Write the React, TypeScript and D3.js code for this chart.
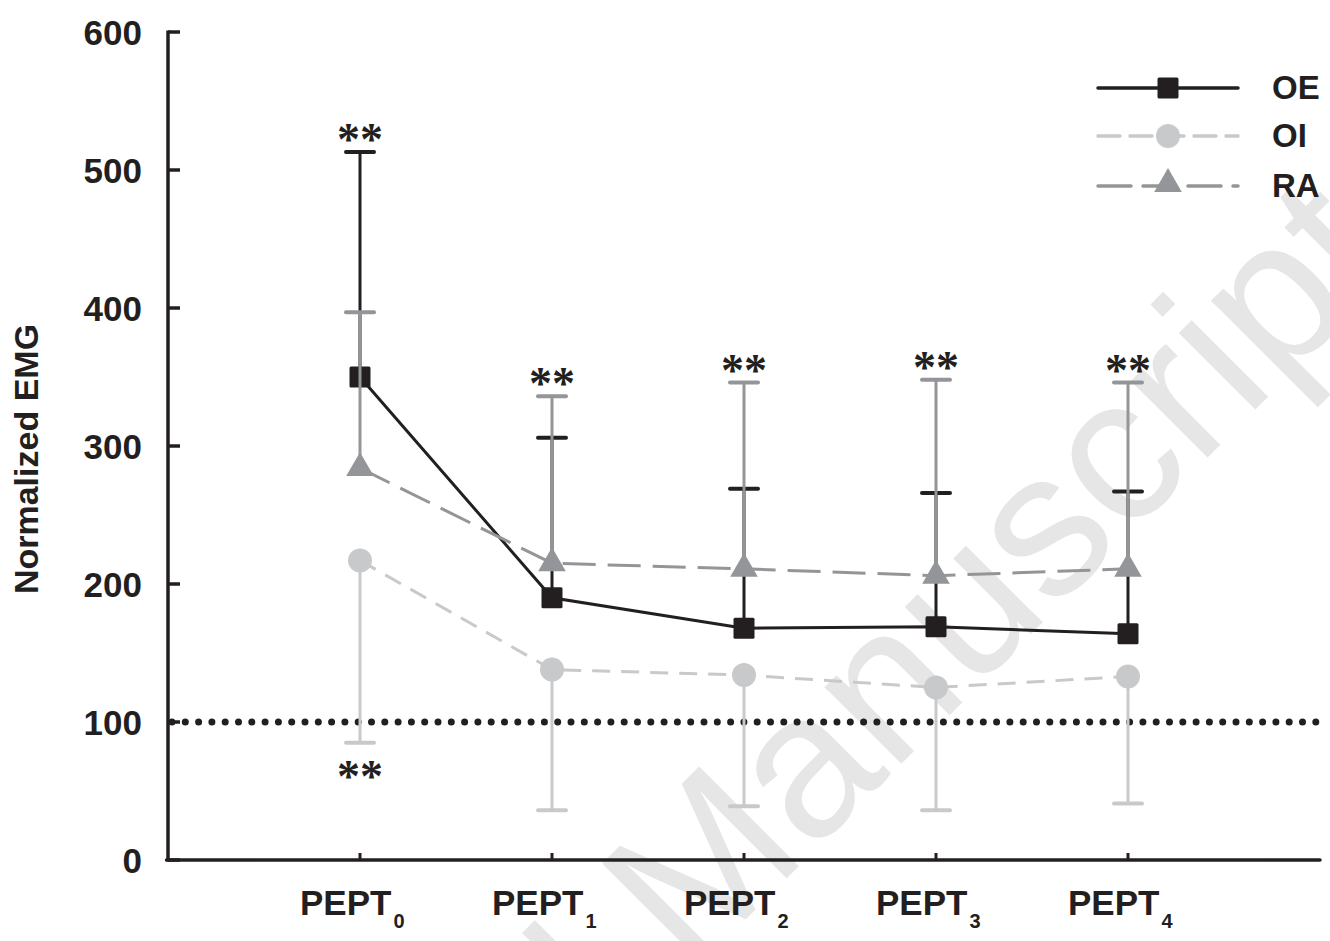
import React from "react";
import * as d3 from "d3";

const categories = ["0", "1", "2", "3", "4"];
const oeMean = [350, 190, 168, 169, 164];
const oeUpper = [513, 306, 269, 266, 267];
const oiMean = [217, 138, 134, 125, 133];
const oiLower = [85, 36, 39, 36, 41];
const raMean = [284, 215, 211, 206, 211];
const raUpper = [397, 336, 346, 348, 346];
const yTicks = [0, 100, 200, 300, 400, 500, 600];
const refLine = 100;
const topStars = [513, 336, 346, 348, 346];
const bottomStar = { idx: 0, value: 85 };

const W = 1330;
const H = 941;
const x = d3.scaleLinear().domain([-1, 5]).range([168, 1320]);
const y = d3.scaleLinear().domain([0, 600]).range([860, 32]);

const C_OE = "#231f20";
const C_OI = "#c8c9cb";
const C_RA = "#939598";
const FONT = "'Liberation Sans', Arial, Helvetica, sans-serif";
const STAR_FONT = "'Liberation Serif', 'Times New Roman', serif";

const lineGen = d3
  .line<number>()
  .x((_, i) => x(i))
  .y((d) => y(d));

function Square({ cx, cy }: { cx: number; cy: number }) {
  return <rect x={cx - 10.5} y={cy - 10.5} width={21} height={21} rx={1.5} fill={C_OE} />;
}
function Circle({ cx, cy }: { cx: number; cy: number }) {
  return <circle cx={cx} cy={cy} r={12} fill={C_OI} />;
}
function Tri({ cx, cy }: { cx: number; cy: number }) {
  const p = d3.symbol(d3.symbolTriangle, 330)();
  return <path d={p as string} transform={`translate(${cx},${cy})`} fill={C_RA} />;
}

export default function App() {
  return (
    <svg
      width={W}
      height={H}
      style={{ position: "absolute", left: 0, top: 0, background: "#fff" }}
    >
      {/* watermark */}
      <g transform={`translate(690,975) rotate(-45)`}>
        <text fontFamily={FONT} fontSize={205} fill="#e6e6e6">
          Manuscript
        </text>
        <text fontFamily={FONT} fontSize={205} fill="#e6e6e6" textAnchor="end" x={-57}>
          Accepted
        </text>
      </g>

      {/* reference dotted line */}
      <line
        x1={x(-1) + 4}
        x2={x(5)}
        y1={y(refLine)}
        y2={y(refLine)}
        stroke="#231f20"
        strokeWidth={7}
        strokeLinecap="round"
        strokeDasharray="0 13.3"
      />

      {/* OE series */}
      <path d={lineGen(oeMean) as string} fill="none" stroke={C_OE} strokeWidth={3} />
      {oeMean.map((m, i) => (
        <g key={"oe" + i}>
          <line x1={x(i)} x2={x(i)} y1={y(m)} y2={y(oeUpper[i])} stroke={C_OE} strokeWidth={3} />
          <line x1={x(i) - 14} x2={x(i) + 14} y1={y(oeUpper[i])} y2={y(oeUpper[i])} stroke={C_OE} strokeWidth={4} strokeLinecap="round" />
          <Square cx={x(i)} cy={y(m)} />
        </g>
      ))}

      {/* OI series */}
      <path d={lineGen(oiMean) as string} fill="none" stroke={C_OI} strokeWidth={3} strokeDasharray="18 11" />
      {oiMean.map((m, i) => (
        <g key={"oi" + i}>
          <line x1={x(i)} x2={x(i)} y1={y(m)} y2={y(oiLower[i])} stroke={C_OI} strokeWidth={3} />
          <line x1={x(i) - 14} x2={x(i) + 14} y1={y(oiLower[i])} y2={y(oiLower[i])} stroke={C_OI} strokeWidth={4} strokeLinecap="round" />
          <Circle cx={x(i)} cy={y(m)} />
        </g>
      ))}

      {/* RA series */}
      <path d={lineGen(raMean) as string} fill="none" stroke={C_RA} strokeWidth={3} strokeDasharray="33 12" />
      {raMean.map((m, i) => (
        <g key={"ra" + i}>
          <line x1={x(i)} x2={x(i)} y1={y(m)} y2={y(raUpper[i])} stroke={C_RA} strokeWidth={3} />
          <line x1={x(i) - 14} x2={x(i) + 14} y1={y(raUpper[i])} y2={y(raUpper[i])} stroke={C_RA} strokeWidth={4} strokeLinecap="round" />
          <Tri cx={x(i)} cy={y(m)} />
        </g>
      ))}

      {/* significance stars */}
      {topStars.map((v, i) => (
        <text
          key={"st" + i}
          x={x(i)}
          y={y(v) + 3}
          textAnchor="middle"
          fontFamily={STAR_FONT}
          fontWeight="bold"
          fontSize={46}
          fill="#231f20"
        >
          **
        </text>
      ))}
      <text
        x={x(bottomStar.idx)}
        y={y(bottomStar.value) + 49}
        textAnchor="middle"
        fontFamily={STAR_FONT}
        fontWeight="bold"
        fontSize={46}
        fill="#231f20"
      >
        **
      </text>

      {/* y axis */}
      <line x1={x(-1)} x2={x(-1)} y1={y(600) - 1.5} y2={y(0) + 1.5} stroke="#231f20" strokeWidth={3.5} />
      {yTicks.map((t) => (
        <g key={"yt" + t}>
          <line x1={x(-1)} x2={x(-1) + 12} y1={y(t)} y2={y(t)} stroke="#231f20" strokeWidth={3.5} />
          <text
            x={142}
            y={y(t)}
            dy="0.36em"
            textAnchor="end"
            fontFamily={FONT}
            fontWeight="bold"
            fontSize={35}
            fill="#231f20"
          >
            {t}
          </text>
        </g>
      ))}
      <text
        transform={`translate(38,${y(300) + 13}) rotate(-90)`}
        textAnchor="middle"
        fontFamily={FONT}
        fontWeight="bold"
        fontSize={34}
        fill="#231f20"
      >
        Normalized EMG
      </text>

      {/* x axis */}
      <line x1={x(-1) - 1.5} x2={x(5)} y1={y(0)} y2={y(0)} stroke="#231f20" strokeWidth={3.5} strokeLinecap="round" />
      {categories.map((c, i) => (
        <g key={"xt" + i}>
          <line x1={x(i)} x2={x(i)} y1={y(0)} y2={y(0) - 7} stroke="#231f20" strokeWidth={3} />
          <text
            x={x(i) - 60}
            y={915}
            fontFamily={FONT}
            fontWeight="bold"
            fontSize={35}
            fill="#231f20"
          >
            PEPT
            <tspan dy={13} fontSize={20} fontFamily="'Liberation Sans Narrow', 'Liberation Sans', Arial, sans-serif" dx={2}>
              {c}
            </tspan>
          </text>
        </g>
      ))}

      {/* legend */}
      {[
        { name: "OE", c: C_OE, dash: "none", yy: 88, m: "sq" },
        { name: "OI", c: C_OI, dash: "22 10", yy: 136, m: "ci" },
        { name: "RA", c: C_RA, dash: "33 12", yy: 186, m: "tr" },
      ].map((l) => (
        <g key={l.name}>
          <line x1={1098} x2={1238} y1={l.yy} y2={l.yy} stroke={l.c} strokeWidth={3.5} strokeDasharray={l.dash} strokeLinecap="round" />
          {l.m === "sq" && <Square cx={1168} cy={l.yy} />}
          {l.m === "ci" && <Circle cx={1168} cy={l.yy} />}
          {l.m === "tr" && <Tri cx={1168} cy={l.yy - 2} />}
          <text x={1272} y={l.yy + 11} fontFamily={FONT} fontWeight="bold" fontSize={33} fill="#231f20">
            {l.name}
          </text>
        </g>
      ))}
    </svg>
  );
}
